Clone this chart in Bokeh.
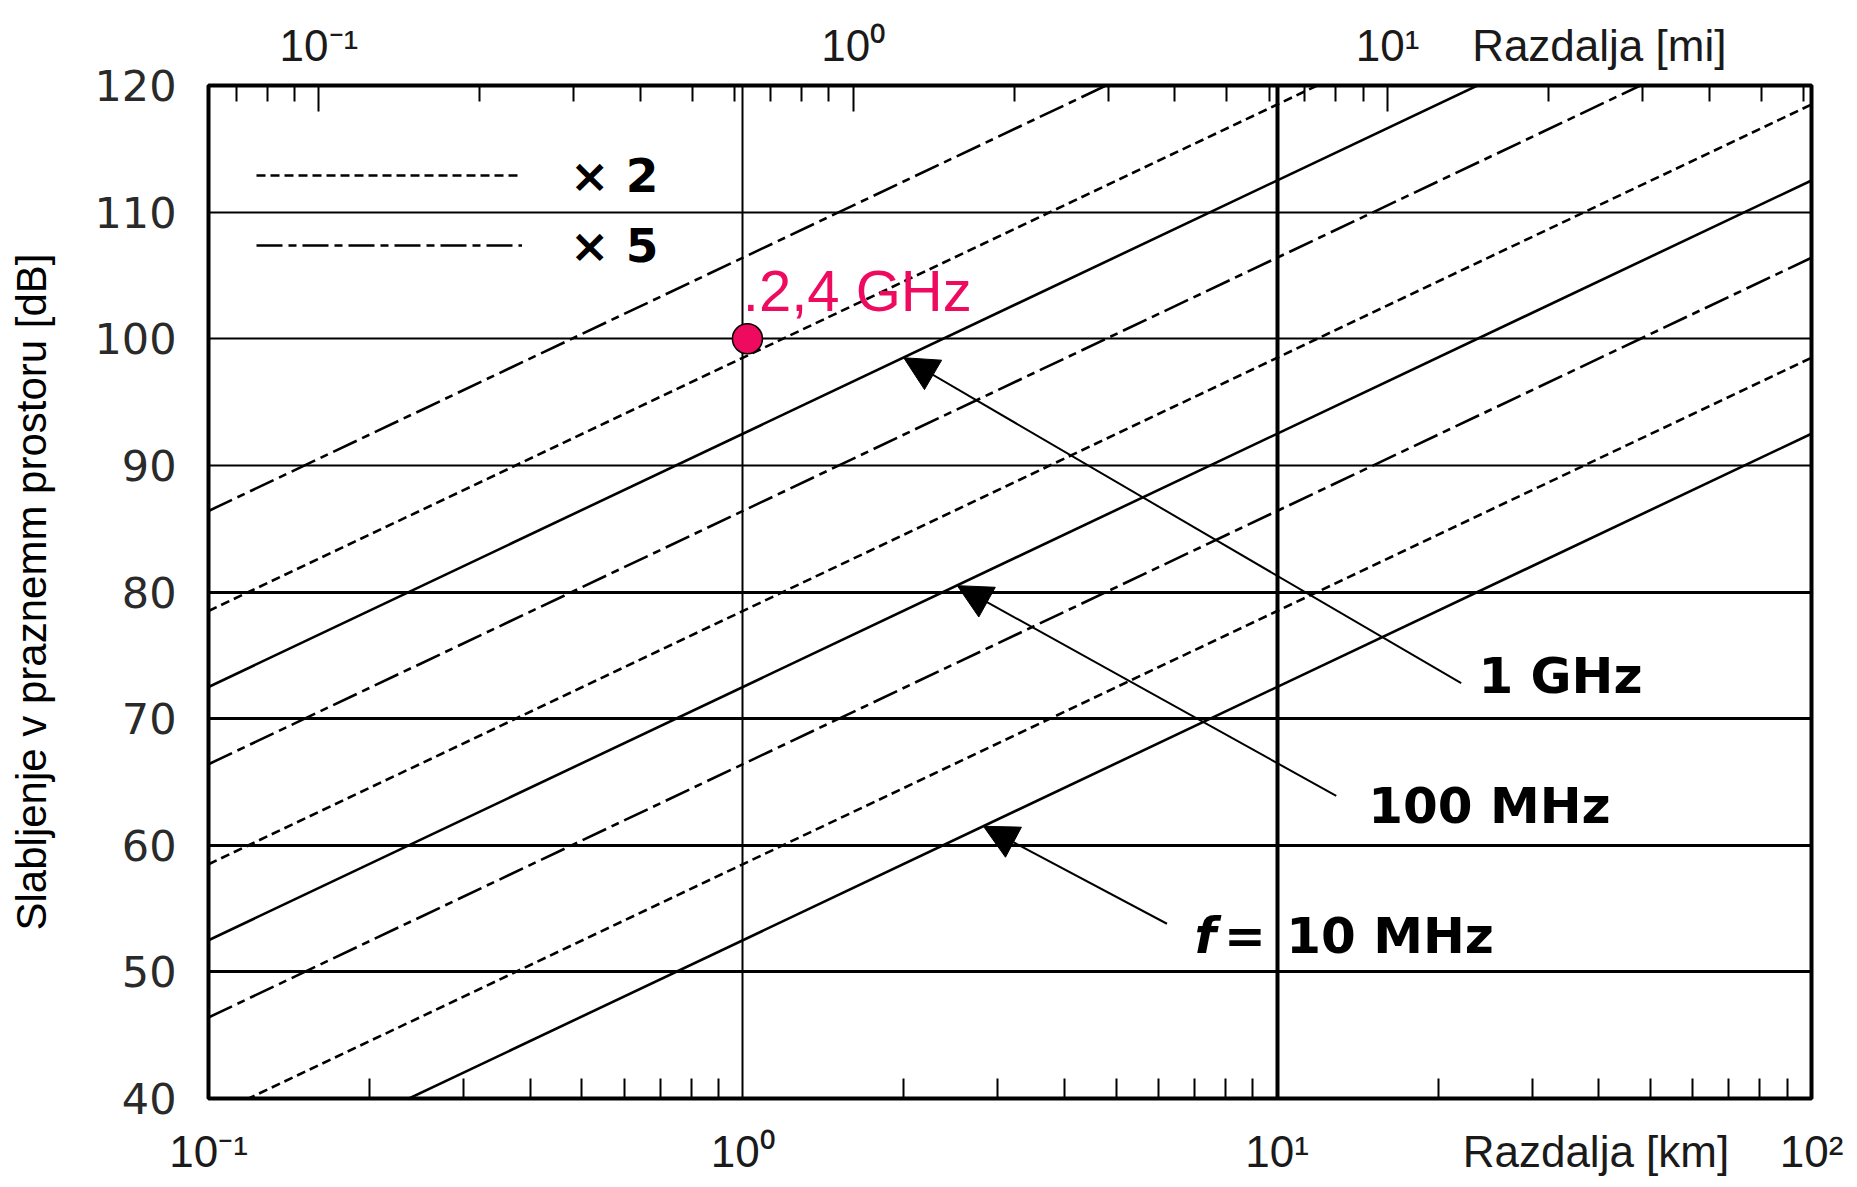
from bokeh.plotting import figure
from bokeh.models import (Range1d, LogAxis, LogScale, FixedTicker, Grid, Label,
                          Arrow, NormalHead, Legend, LegendItem)
from bokeh.embed import file_html
from bokeh.resources import INLINE

# ---------------- data ----------------
freq_labels = ["10 MHz", "20 MHz", "50 MHz", "100 MHz", "200 MHz",
               "500 MHz", "1 GHz", "2 GHz", "5 GHz"]
line_kind = ["solid", "x2", "x5", "solid", "x2", "x5", "solid", "x2", "x5"]
dist_km_ends = [0.1, 100.0]
loss_at_0_1km = [32.5, 38.5, 46.4, 52.5, 58.5, 66.4, 72.5, 78.5, 86.4]
loss_at_100km = [92.5, 98.5, 106.4, 112.5, 118.5, 126.4, 132.5, 138.5, 146.4]

legend_labels = ["× 2", "× 5"]

marker_dist_km = [1.02]
marker_loss_db = [100.0]
marker_text = ".2,4 GHz"

arrow_texts = ["1 GHz", "100 MHz", "10 MHz"]
arrow_tip_km = [2.0, 2.52, 2.82]
arrow_tip_db = [98.5, 80.5, 61.5]
arrow_tail_km = [22.1, 12.9, 6.22]
arrow_tail_db = [72.8, 63.9, 53.8]
arrow_text_km = [23.8, 14.8, 10.4]
arrow_text_db = [73.4, 63.1, 52.8]

# bottom axis: decades in km, plus the axis title placed among the labels
x_ticks_km = [0.1, 1, 10, 39.5, 100]
x_tick_labels_km = ["10⁻¹", "10⁰", "10¹", "Razdalja [km]", "10²"]
# top axis: decades in miles, plus the axis title placed among the labels
x_ticks_mi = [0.1, 1, 10, 24.9]
x_tick_labels_mi = ["10⁻¹", "10⁰", "10¹", "Razdalja [mi]"]
x_decades_mi = [0.1, 1, 10]
y_ticks = [40, 50, 60, 70, 80, 90, 100, 110, 120]
KM_PER_MI = 1.609344

PINK = "#EE0A5F"

# ---------------- figure ----------------
p = figure(x_axis_type="log", x_range=Range1d(0.1, 100), y_range=Range1d(40, 120),
           frame_width=1603, frame_height=1013,
           min_border_left=208, min_border_right=38, min_border_top=85, min_border_bottom=85,
           output_backend="svg", toolbar_location=None)
p.background_fill_color = "white"
p.border_fill_color = "white"
p.outline_line_color = "black"
p.outline_line_width = 4

def minor_list(ticks, lo, hi):
    out = []
    for t in ticks:
        for m in range(2, 10):
            v = t * m
            if lo <= v <= hi:
                out.append(v)
    return out

XFONT = "Liberation Sans"
XSIZE = "44px"
XCOLOR = "#1a1a1a"

# bottom axis (km)
xa = p.xaxis[0]
xa.ticker = FixedTicker(ticks=x_ticks_km,
                        minor_ticks=minor_list([0.1, 1, 10], 0.1, 100))
xa.major_label_overrides = dict(zip(x_ticks_km, x_tick_labels_km))
xa.axis_line_color = None
xa.major_tick_in = 0
xa.major_tick_out = 0
xa.major_tick_line_color = None
xa.minor_tick_in = 20
xa.minor_tick_out = 0
xa.minor_tick_line_width = 2
xa.minor_tick_line_color = "black"
xa.major_label_standoff = 28
xa.major_label_text_font = XFONT
xa.major_label_text_font_size = XSIZE
xa.major_label_text_color = XCOLOR

# top axis (miles): ticks only, sits on the frame
p.extra_x_ranges = {"mi": Range1d(0.1 / KM_PER_MI, 100 / KM_PER_MI)}
p.extra_x_scales = {"mi": LogScale()}
tt = LogAxis(x_range_name="mi",
             ticker=FixedTicker(ticks=x_decades_mi,
                                minor_ticks=minor_list([0.01, 0.1, 1, 10],
                                                       0.1 / KM_PER_MI, 100 / KM_PER_MI)))
tt.axis_line_color = None
tt.major_tick_in = 26
tt.major_tick_out = 0
tt.minor_tick_in = 16
tt.minor_tick_out = 0
tt.major_tick_line_width = 2
tt.minor_tick_line_width = 2
tt.major_label_standoff = 0
tt.major_label_text_font_size = "0px"
tt.major_label_overrides = {v: "" for v in x_decades_mi}
p.add_layout(tt, "above")

# top axis (miles): labels
ta = LogAxis(x_range_name="mi", ticker=FixedTicker(ticks=x_ticks_mi))
ta.major_label_overrides = dict(zip(x_ticks_mi, x_tick_labels_mi))
ta.axis_line_color = None
ta.major_tick_in = 0
ta.major_tick_out = 0
ta.major_tick_line_color = None
ta.minor_tick_line_color = None
ta.minor_tick_in = 0
ta.minor_tick_out = 0
ta.major_label_standoff = 16
ta.major_label_text_font = XFONT
ta.major_label_text_font_size = XSIZE
ta.major_label_text_color = XCOLOR
p.add_layout(ta, "above")

# left axis
ya = p.yaxis[0]
ya.ticker = FixedTicker(ticks=y_ticks)
ya.axis_line_color = None
ya.major_tick_in = 0
ya.major_tick_out = 0
ya.minor_tick_line_color = None
ya.major_label_standoff = 32
ya.major_label_text_font = "DejaVu Sans"
ya.major_label_text_font_size = "43px"
ya.major_label_text_color = "#2a2a2a"
ya.axis_label = "Slabljenje v praznemm prostoru [dB]"
ya.axis_label_text_font = "Liberation Sans"
ya.axis_label_text_font_size = "42px"
ya.axis_label_text_font_style = "normal"
ya.axis_label_text_color = "black"
ya.axis_label_standoff = 36

# grids
p.xgrid.ticker = FixedTicker(ticks=[1])
p.xgrid.grid_line_color = "black"
p.xgrid.grid_line_width = 2
p.ygrid.ticker = FixedTicker(ticks=[50, 60, 70, 80])
p.ygrid.grid_line_color = "black"
p.ygrid.grid_line_width = 3
p.add_layout(Grid(dimension=0, ticker=FixedTicker(ticks=[10]),
                  grid_line_color="black", grid_line_width=4))
p.add_layout(Grid(dimension=1, ticker=FixedTicker(ticks=[90, 100, 110]),
                  grid_line_color="black", grid_line_width=2))

# frequency lines
dash_of = {"solid": "solid", "x2": "9 5", "x5": "26 6 8 6"}
renderers = {}
for lab, kind, a, b in zip(freq_labels, line_kind, loss_at_0_1km, loss_at_100km):
    r = p.line(x=dist_km_ends, y=[a, b], line_color="black", line_width=2.6,
               line_dash=dash_of[kind])
    renderers.setdefault(kind, r)

legend = Legend(items=[LegendItem(label=legend_labels[0], renderers=[renderers["x2"]]),
                       LegendItem(label=legend_labels[1], renderers=[renderers["x5"]])],
                location=(48, 818), glyph_width=266, glyph_height=70,
                label_standoff=48, spacing=0, padding=0, margin=0,
                border_line_color=None, background_fill_alpha=0,
                label_text_font="DejaVu Sans", label_text_font_style="bold",
                label_text_font_size="47px", label_text_color="black",
                label_height=70)
p.add_layout(legend)

# arrows + labels
for t, tx, ty, sx, sy, lx, ly in zip(arrow_texts, arrow_tip_km, arrow_tip_db,
                                      arrow_tail_km, arrow_tail_db,
                                      arrow_text_km, arrow_text_db):
    p.add_layout(Arrow(end=NormalHead(size=34, fill_color="black", line_color="black"),
                       x_start=sx, y_start=sy, x_end=tx, y_end=ty,
                       line_color="black", line_width=2))
    p.add_layout(Label(x=lx, y=ly, text=t, text_baseline="middle",
                       text_font="DejaVu Sans", text_font_style="bold",
                       text_font_size="50px", text_color="black"))
p.add_layout(Label(x=7.0, y=52.8, text="f", text_baseline="middle",
                   text_font="DejaVu Sans", text_font_style="bold italic",
                   text_font_size="50px", text_color="black"))
p.add_layout(Label(x=7.95, y=52.8, text="=", text_baseline="middle",
                   text_font="DejaVu Sans", text_font_style="bold",
                   text_font_size="50px", text_color="black"))

# 2.4 GHz point
p.scatter(x=marker_dist_km, y=marker_loss_db, size=30, fill_color=PINK,
          line_color="black", line_width=1.5)
p.add_layout(Label(x=1.0, y=103.8, text=marker_text, text_baseline="middle",
                   text_font="Liberation Sans", text_font_size="58px",
                   text_color=PINK))

open("out.html", "w").write(file_html(p, INLINE))
